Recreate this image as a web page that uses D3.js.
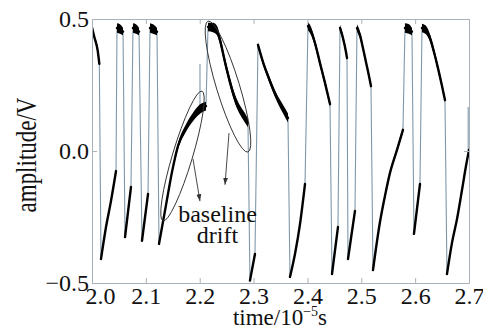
<!DOCTYPE html>
<html>
<head>
<meta charset="utf-8">
<script src="https://cdn.jsdelivr.net/npm/d3@7"></script>
<style>
  body { margin: 0; background: #fff; }
  svg { display: block; font-family: "Liberation Serif", "Times New Roman", serif; }
</style>
</head>
<body>
<div id="chart"></div>
<script>
// axis ticks
const xTicks = [2.0, 2.1, 2.2, 2.3, 2.4, 2.5, 2.6, 2.7]
const yTicks = [-0.5, 0.0, 0.5]

// slow parts of the trace: [time (1e-5 s), amplitude (V), noise half-width (V)]
const seg01 = [[2.000, 0.468, 0.007], [2.0043, 0.432, 0.008], [2.0106, 0.380, 0.008], [2.0136, 0.330, 0.006]]
const seg02 = [[2.0167, -0.409, 0.004], [2.026, -0.288, 0.004], [2.0353, -0.189, 0.004], [2.0446, -0.076, 0.005]]
const seg03 = [[2.0464, 0.466, 0.018], [2.052, 0.462, 0.018], [2.0576, 0.452, 0.014]]
const seg04 = [[2.0613, -0.326, 0.005], [2.0724, -0.136, 0.005]]
const seg05 = [[2.0761, 0.466, 0.018], [2.0817, 0.462, 0.018], [2.0873, 0.452, 0.014]]
const seg06 = [[2.0928, -0.340, 0.005], [2.104, -0.163, 0.005]]
const seg07 = [[2.1077, 0.466, 0.018], [2.1133, 0.462, 0.018], [2.1207, 0.452, 0.014]]
const seg08 = [[2.1244, -0.352, 0.004], [2.1374, -0.205, 0.006], [2.1485, -0.080, 0.008], [2.1597, 0.019, 0.011],
  [2.1745, 0.087, 0.014], [2.1875, 0.129, 0.016], [2.2005, 0.159, 0.018], [2.2117, 0.170, 0.017]]
const seg09 = [[2.2154, 0.470, 0.016], [2.2247, 0.468, 0.018], [2.2321, 0.456, 0.018], [2.2377, 0.420, 0.016],
  [2.2469, 0.337, 0.016], [2.2562, 0.261, 0.016], [2.2655, 0.197, 0.017], [2.2748, 0.155, 0.017],
  [2.2841, 0.125, 0.018], [2.2896, 0.106, 0.016]]
const seg10 = [[2.2933, -0.491, 0.005], [2.3026, -0.390, 0.005]]
const seg11 = [[2.3082, 0.402, 0.010], [2.3175, 0.337, 0.010], [2.3268, 0.284, 0.011], [2.3361, 0.235, 0.012],
  [2.3453, 0.193, 0.014], [2.3546, 0.159, 0.016], [2.3639, 0.125, 0.017]]
const seg12 = [[2.3676, -0.477, 0.004], [2.3769, -0.390, 0.004], [2.3862, -0.277, 0.005], [2.3955, -0.125, 0.006]]
const seg13 = [[2.4010, 0.473, 0.016], [2.4066, 0.455, 0.016], [2.4140, 0.409, 0.013], [2.4233, 0.333, 0.012],
  [2.4326, 0.258, 0.012], [2.4419, 0.178, 0.012]]
const seg14 = [[2.4456, -0.466, 0.005], [2.4567, -0.288, 0.005]]
const seg15 = [[2.4605, 0.466, 0.012], [2.4660, 0.428, 0.011], [2.4716, 0.375, 0.010], [2.4735, 0.352, 0.008]]
const seg16 = [[2.4753, -0.409, 0.005], [2.4883, -0.227, 0.005]]
const seg17 = [[2.4920, 0.466, 0.014], [2.4976, 0.439, 0.013], [2.5031, 0.390, 0.011], [2.5087, 0.337, 0.010],
  [2.5143, 0.284, 0.010], [2.518, 0.246, 0.009]]
const seg18 = [[2.5217, -0.451, 0.004], [2.5347, -0.269, 0.005], [2.544, -0.170, 0.006], [2.5533, -0.083, 0.007],
  [2.5663, 0.004, 0.008], [2.5774, 0.080, 0.010]]
const seg19 = [[2.5811, 0.466, 0.018], [2.5885, 0.462, 0.018], [2.5941, 0.452, 0.014]]
const seg20 = [[2.5978, -0.314, 0.005], [2.609, -0.125, 0.006]]
const seg21 = [[2.6127, 0.466, 0.016], [2.6201, 0.458, 0.016], [2.6276, 0.428, 0.014], [2.635, 0.375, 0.012],
  [2.6424, 0.314, 0.012], [2.6499, 0.246, 0.011], [2.6554, 0.193, 0.010]]
const seg22 = [[2.6591, -0.466, 0.004], [2.6684, -0.348, 0.005], [2.6777, -0.258, 0.006], [2.687, -0.148, 0.007],
  [2.6944, -0.057, 0.008], [2.7, 0.004, 0.008]]

const traces = [seg01, seg02, seg03, seg04, seg05, seg06, seg07, seg08, seg09, seg10, seg11,
  seg12, seg13, seg14, seg15, seg16, seg17, seg18, seg19, seg20, seg21, seg22]

// short glitches: [time, from V, to V]
const spikes = [[2.2005, 0.159, 0.330], [2.6985, 0.004, 0.167]]

// baseline drift marks: major axis ends of each ellipse [time, V]
const driftRise = [[2.1318, -0.265], [2.2042, 0.227]]
const driftFall = [[2.2154, 0.492], [2.2896, -0.004]]
// arrows: [start, end]
const arrows = [[[2.1875, -0.030], [2.2005, -0.190]], [[2.2544, 0.068], [2.2470, -0.128]]]
const noteAt = [2.2330, -0.269]

const width = 483
const height = 330
const margin = { top: 19, right: 14, bottom: 47, left: 92 }

const x = d3.scaleLinear().domain([2.0, 2.7]).range([margin.left, width - margin.right])
const y = d3.scaleLinear().domain([-0.5, 0.5]).range([height - margin.bottom, margin.top])

const svg = d3.select("#chart").append("svg")
  .attr("width", width)
  .attr("height", height)

svg.append("defs").append("clipPath").attr("id", "plot")
  .append("rect")
  .attr("x", margin.left).attr("y", margin.top)
  .attr("width", x.range()[1] - x.range()[0])
  .attr("height", y.range()[0] - y.range()[1])

svg.select("defs").append("marker")
  .attr("id", "head")
  .attr("viewBox", "0 0 10 10")
  .attr("refX", 10).attr("refY", 5)
  .attr("markerWidth", 7).attr("markerHeight", 7)
  .attr("markerUnits", "userSpaceOnUse")
  .attr("orient", "auto")
  .append("path")
  .attr("d", "M0,1.5L10,5L0,8.5Z")
  .attr("fill", "#333")

const plot = svg.append("g").attr("clip-path", "url(#plot)")

// fast edges: thin line through the whole record
const thin = d3.line().x(d => x(d[0])).y(d => y(d[1]))
plot.append("path")
  .datum(traces.flat())
  .attr("d", thin)
  .attr("fill", "none")
  .attr("stroke", "#7f98aa")
  .attr("stroke-width", 1.1)

plot.selectAll(".spike")
  .data(spikes)
  .join("line")
  .attr("x1", d => x(d[0])).attr("x2", d => x(d[0]))
  .attr("y1", d => y(d[1])).attr("y2", d => y(d[2]))
  .attr("stroke", "#7f98aa")
  .attr("stroke-width", 1.1)

// slow parts: noisy band + core line
const band = d3.area()
  .x(d => x(d[0]))
  .y0(d => y(d[1] - d[2]))
  .y1(d => y(d[1] + d[2]))
  .curve(d3.curveMonotoneX)

const core = d3.line()
  .x(d => x(d[0]))
  .y(d => y(d[1]))
  .curve(d3.curveMonotoneX)

plot.selectAll(".band")
  .data(traces)
  .join("path")
  .attr("d", band)
  .attr("fill", "#000")

plot.selectAll(".core")
  .data(traces)
  .join("path")
  .attr("d", core)
  .attr("fill", "none")
  .attr("stroke", "#000")
  .attr("stroke-width", 2.4)
  .attr("stroke-linecap", "round")

// frame and inward ticks
const axisColor = "#a9b2ba"
const fmt = d3.format(".1f")

const gx = svg.append("g")
  .attr("transform", `translate(0,${y.range()[0]})`)
  .call(d3.axisBottom(x).tickValues(xTicks).tickFormat(fmt).tickSize(-5).tickSizeOuter(0).tickPadding(4))
const gxTop = svg.append("g")
  .attr("transform", `translate(0,${y.range()[1]})`)
  .call(d3.axisTop(x).tickValues(xTicks).tickFormat("").tickSize(-5).tickSizeOuter(0))
const gy = svg.append("g")
  .attr("transform", `translate(${x.range()[0]},0)`)
  .call(d3.axisLeft(y).tickValues(yTicks).tickFormat(fmt).tickSize(-5).tickSizeOuter(0).tickPadding(3))
const gyRight = svg.append("g")
  .attr("transform", `translate(${x.range()[1]},0)`)
  .call(d3.axisRight(y).tickValues(yTicks).tickFormat("").tickSize(-5).tickSizeOuter(0))

for (const g of [gx, gxTop, gy, gyRight]) {
  g.select(".domain").attr("stroke", axisColor)
  g.selectAll(".tick line").attr("stroke", axisColor)
  g.selectAll("text")
    .attr("fill", "#111")
    .attr("font-size", 24)
    .attr("font-family", `"Liberation Serif", "Times New Roman", serif`)
}
gx.selectAll(".tick text").filter(d => d === 2.0).attr("dx", 8)

// axis titles
svg.append("text")
  .attr("transform", `translate(36,${(y.range()[0] + y.range()[1]) / 2 + 4}) rotate(-90) scale(1,1.3)`)
  .attr("text-anchor", "middle")
  .attr("font-size", 23)
  .attr("fill", "#111")
  .text("amplitude/V")

const xt = svg.append("text")
  .attr("x", 280)
  .attr("y", 325)
  .attr("text-anchor", "middle")
  .attr("font-size", 23)
  .attr("fill", "#111")
xt.append("tspan").text("time/10")
xt.append("tspan").attr("dy", -9).attr("font-size", 14).text("\u22125")
xt.append("tspan").attr("dy", 9).text("s")

// annotation
const notes = svg.append("g").attr("fill", "none").attr("stroke", "#333").attr("stroke-width", 0.9)

for (const [pair, semiMinor] of [[driftRise, 10], [driftFall, 11.5]]) {
  const [a, b] = pair.map(p => [x(p[0]), y(p[1])])
  const cx = (a[0] + b[0]) / 2
  const cy = (a[1] + b[1]) / 2
  const rx = Math.hypot(b[0] - a[0], b[1] - a[1]) / 2
  const ang = Math.atan2(b[1] - a[1], b[0] - a[0]) * 180 / Math.PI
  notes.append("ellipse")
    .attr("transform", `translate(${cx},${cy}) rotate(${ang})`)
    .attr("rx", rx)
    .attr("ry", semiMinor)
}

notes.selectAll(".arrow")
  .data(arrows)
  .join("line")
  .attr("x1", d => x(d[0][0])).attr("y1", d => y(d[0][1]))
  .attr("x2", d => x(d[1][0])).attr("y2", d => y(d[1][1]))
  .attr("marker-end", "url(#head)")

const label = svg.append("text")
  .attr("x", x(noteAt[0]))
  .attr("y", y(noteAt[1]))
  .attr("text-anchor", "middle")
  .attr("font-size", 24)
  .attr("fill", "#111")
label.append("tspan").text("baseline")
label.append("tspan").attr("x", x(noteAt[0])).attr("dy", 21).text("drift")
</script>
</body>
</html>
